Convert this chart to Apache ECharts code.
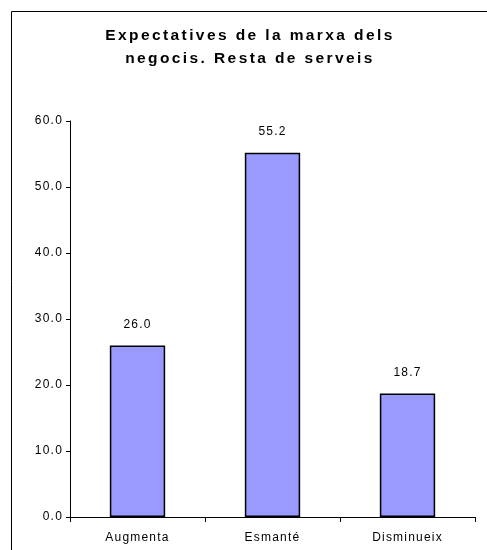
<!DOCTYPE html>
<html><head><meta charset="utf-8">
<script src="https://cdn.jsdelivr.net/npm/echarts@6/dist/echarts.min.js"></script>
<style>html,body{margin:0;padding:0;background:#fff}#c{width:487px;height:550px}</style>
</head><body><div id="c"></div>
<script>
const categories = ["Augmenta", "Esmanté", "Disminueix"];
const values = [26.0, 55.2, 18.7];
const titleLines = ["Expectatives de la marxa dels", "negocis. Resta de serveis"];

// Letter spacing like the reference's wide glyph rendering (title bold text wider than labels)
(function () {
  const P = CanvasRenderingContext2D.prototype;
  if (!('letterSpacing' in P)) return;
  const sp = f => (/bold|700/.test(f) ? '2.4px' : '1.2px');
  const fill = P.fillText, meas = P.measureText;
  P.fillText = function (t, x, y, m) { this.letterSpacing = sp(this.font); return m === undefined ? fill.call(this, t, x, y) : fill.call(this, t, x, y, m); };
  P.measureText = function (t) { this.letterSpacing = sp(this.font); return meas.call(this, t); };
})();

const FONT = 'Liberation Sans, Arial';
const chart = echarts.init(document.getElementById('c'));
chart.setOption({
  animation: false,
  backgroundColor: '#fff',
  title: {
    text: titleLines.join('\n'),
    left: 245,
    top: 19,
    textAlign: 'center',
    textStyle: { fontFamily: FONT, fontWeight: 'bold', fontSize: 15.5, lineHeight: 23, color: '#000' }
  },
  graphic: [{
    type: 'rect', left: 9, top: 9, silent: true,
    shape: { width: 500, height: 600 },
    style: { fill: 'none', stroke: '#000', lineWidth: 1 }
  }],
  grid: { left: 70, right: 12, top: 121, bottom: 33 },
  xAxis: {
    type: 'category', data: categories,
    axisLine: { lineStyle: { color: '#000', width: 1 } },
    axisTick: { show: true, length: 5, lineStyle: { color: '#000' } },
    axisLabel: { color: '#000', fontFamily: FONT, fontSize: 12, margin: 14 }
  },
  yAxis: {
    type: 'value', min: 0, max: 60, interval: 10,
    splitLine: { show: false },
    axisLine: { show: true, lineStyle: { color: '#000', width: 1 } },
    axisTick: { show: true, length: 4, lineStyle: { color: '#000' } },
    axisLabel: { color: '#000', fontFamily: FONT, fontSize: 12, margin: 7, formatter: v => v.toFixed(1) }
  },
  series: [{
    type: 'bar', data: values, barWidth: '41%',
    itemStyle: { color: '#9999FF', borderColor: '#000', borderWidth: 1.5 },
    label: { show: true, position: 'top', distance: 14, color: '#000', fontFamily: FONT, fontSize: 12, formatter: p => p.value.toFixed(1) }
  }]
});
</script></body></html>
